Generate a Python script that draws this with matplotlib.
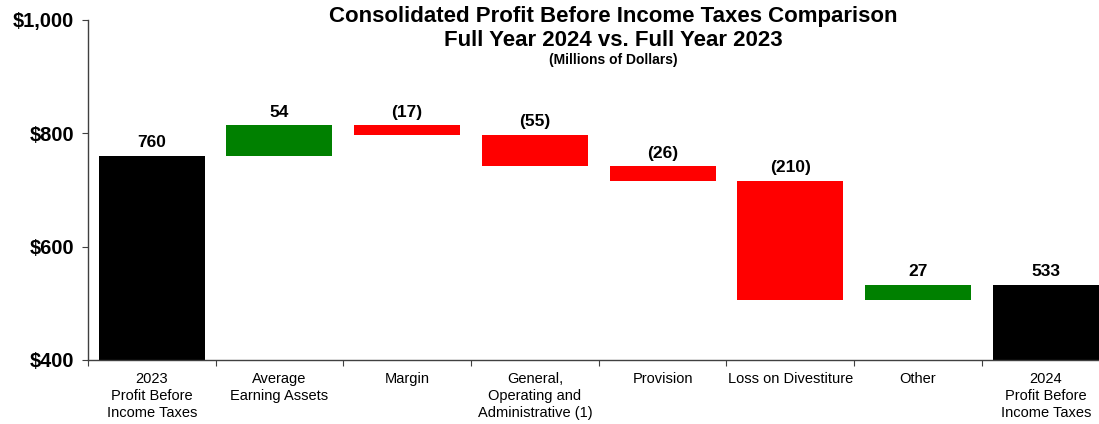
import matplotlib
matplotlib.use("Agg")
import matplotlib.pyplot as plt
import numpy as np

categories = ["2023\nProfit Before\nIncome Taxes", "Average\nEarning Assets", "Margin",
              "General,\nOperating and\nAdministrative (1)", "Provision",
              "Loss on Divestiture", "Other", "2024\nProfit Before\nIncome Taxes"]
start_total = 760
changes = [54, -17, -55, -26, -210, 27]
end_total = 533
labels = ["760", "54", "(17)", "(55)", "(26)", "(210)", "27", "533"]
yticks = [400, 600, 800, 1000]
yticklabels = ["$400", "$600", "$800", "$1,000"]

plt.rcParams['font.family'] = ['Liberation Sans', 'DejaVu Sans']

fig = plt.figure(figsize=(10.99, 4.24), dpi=100)
ax = fig.add_axes([0.080, 0.151, 0.9296, 0.802])

n = len(categories)
x = np.arange(n)
bottoms, heights, colors = [], [], []
bottoms.append(400); heights.append(start_total - 400); colors.append("#000000")
cum = start_total
for c in changes:
    if c >= 0:
        bottoms.append(cum); heights.append(c); colors.append("#008000")
    else:
        bottoms.append(cum + c); heights.append(-c); colors.append("#FF0000")
    cum += c
bottoms.append(400); heights.append(end_total - 400); colors.append("#000000")

ax.bar(x, heights, bottom=bottoms, width=0.83, color=colors, edgecolor='none')

for i in range(n):
    top = bottoms[i] + heights[i]
    ax.annotate(labels[i], (x[i], top), xytext=(0, 4), textcoords='offset points',
                ha='center', va='bottom', fontsize=12.5, fontweight='bold')

ax.set_xlim(-0.5, n - 0.5)
ax.set_ylim(400, 1000)
ax.set_yticks(yticks)
ax.set_yticklabels(yticklabels, fontsize=14.5, fontweight='bold')
ax.set_xticks(np.arange(-0.5, n - 0.5 + 0.01, 1.0))
ax.set_xticklabels([])
ax.set_xticks(x, minor=True)
ax.set_xticklabels(categories, minor=True, fontsize=10.5, linespacing=1.25)
ax.tick_params(axis='x', which='minor', length=0, pad=9)
ax.tick_params(axis='x', which='major', length=4, direction='out', color='#404040')
ax.tick_params(axis='y', length=4, direction='out', pad=6, color='#404040')
for s in ['top', 'right']:
    ax.spines[s].set_visible(False)
for s in ['left', 'bottom']:
    ax.spines[s].set_color('#404040')
    ax.spines[s].set_linewidth(1.0)

fig.text(0.558, 0.960, "Consolidated Profit Before Income Taxes Comparison",
         ha='center', va='center', fontsize=16, fontweight='bold')
fig.text(0.558, 0.905, "Full Year 2024 vs. Full Year 2023",
         ha='center', va='center', fontsize=16, fontweight='bold')
fig.text(0.558, 0.858, "(Millions of Dollars)",
         ha='center', va='center', fontsize=10, fontweight='bold')

fig.savefig("out.png", dpi=100)
